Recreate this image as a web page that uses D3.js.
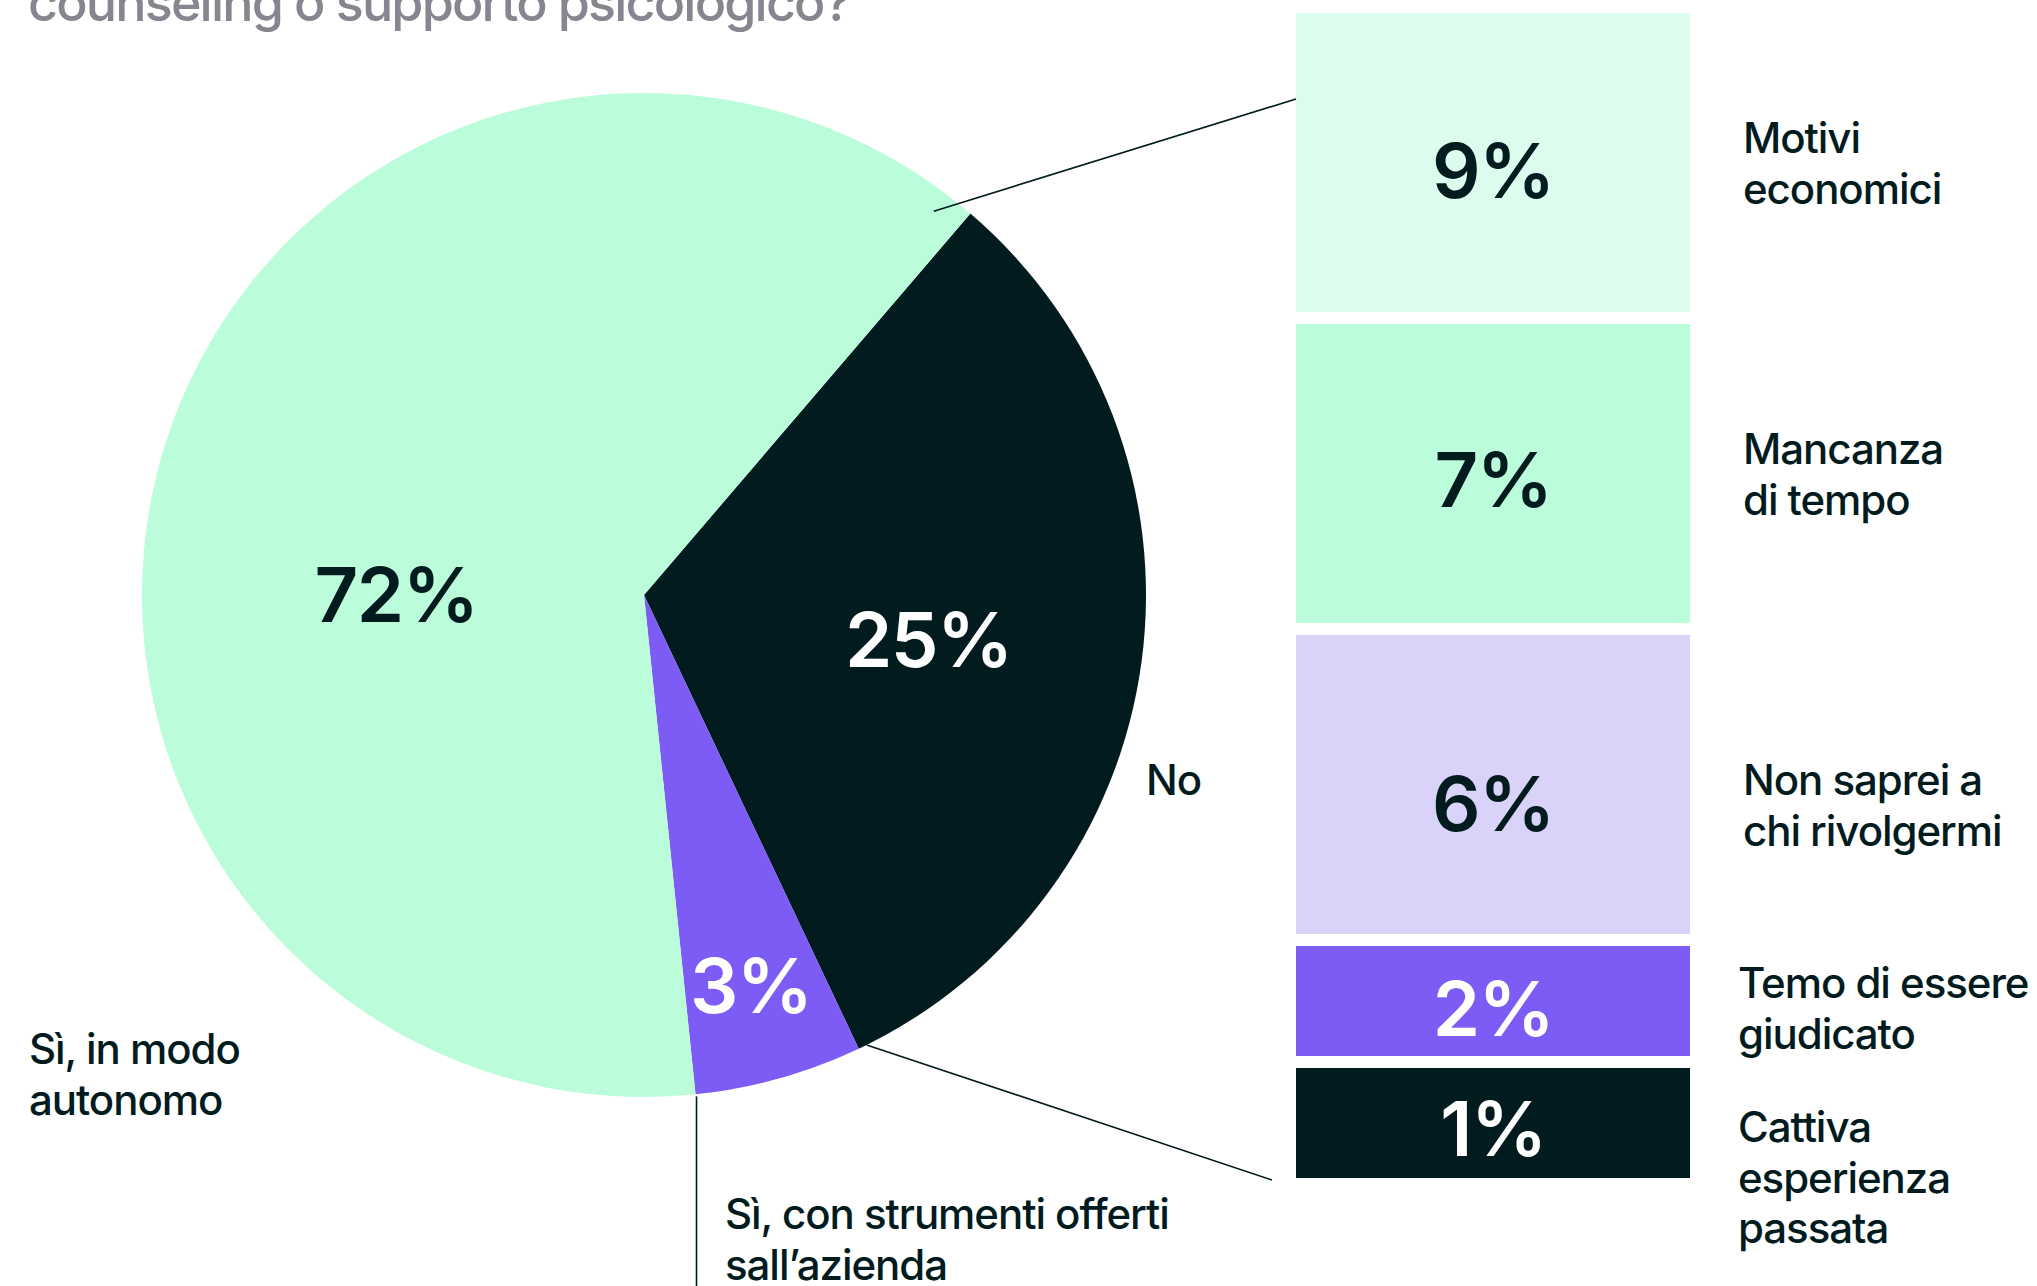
<!DOCTYPE html>
<html>
<head>
<meta charset="utf-8">
<script src="https://cdn.jsdelivr.net/npm/d3@7"></script>
<style>
  html, body { margin: 0; padding: 0; background: #fff; }
  svg { display: block; }
  text { font-family: Inter, "Noto Sans", sans-serif; }
</style>
</head>
<body>
<div id="chart"></div>
<script>
// chart data
var title = "counseling o supporto psicologico?";

// pie: answers, printed percentages, and slice sizes as drawn in the picture
var pieCategories = ["No", "Sì, con strumenti offerti\nsall’azienda", "Sì, in modo\nautonomo"];
var pieValues = [25, 3, 72];
var pieDrawnShare = [31.7, 5.4, 62.9];

// breakdown of the "No" answers
var reasonCategories = ["Motivi\neconomici", "Mancanza\ndi tempo", "Non saprei a\nchi rivolgermi",
                        "Temo di essere\ngiudicato", "Cattiva\nesperienza\npassata"];
var reasonValues = [9, 7, 6, 2, 1];

// colours
var dark = "#021b1e", mint = "#bbfddb", paleMint = "#dcfdee", purple = "#7d5cf5", lilac = "#d9d3f9";

var width = 2037, height = 1286;

var svg = d3.select("#chart")
  .append("svg")
    .attr("width", width)
    .attr("height", height);

// title, cut at the top edge as in the original
svg.append("text")
  .attr("x", 28)
  .attr("y", 21)
  .text(title)
  .style("font-size", "52px")
  .style("font-weight", 500)
  .style("letter-spacing", "-0.035em")
  .style("fill", "#878690");

// ---- pie ----
var cx = 644, cy = 595, R = 502;
var rad = Math.PI / 180;
var startA = 40.55 * rad;

var pieData = pieCategories.map(function(c, i) {
  return { name: c, value: pieValues[i], drawn: pieDrawnShare[i] };
});

var pie = d3.pie()
  .sort(null)
  .value(function(d) { return d.drawn; })
  .startAngle(startA)
  .endAngle(startA + 2 * Math.PI);

var arc = d3.arc().innerRadius(0).outerRadius(R);
var sliceColor = d3.scaleOrdinal().domain(pieCategories).range([dark, purple, mint]);
var sliceText = d3.scaleOrdinal().domain(pieCategories).range(["#fff", "#fff", dark]);

var g = svg.append("g").attr("transform", "translate(" + cx + "," + cy + ")");
var arcs = pie(pieData);

g.selectAll(".slice")
  .data(arcs)
  .enter().append("path")
    .attr("class", "slice")
    .attr("d", arc)
    .style("fill", function(d) { return sliceColor(d.data.name); });

// where the big percentages sit (angle in degrees, radius)
var valueLabelAt = [[99, 288], [164.7, 405], [270.2, 248]];
g.selectAll(".pval")
  .data(arcs)
  .enter().append("text")
    .attr("class", "pval")
    .attr("transform", function(d, i) {
      var p = d3.pointRadial(valueLabelAt[i][0] * rad, valueLabelAt[i][1]);
      return "translate(" + p[0] + "," + p[1] + ")";
    })
    .attr("dy", "0.36em")
    .attr("text-anchor", "middle")
    .text(function(d) { return d.data.value + "%"; })
    .style("font-size", "76px")
    .style("font-weight", 600)
    .style("letter-spacing", "-0.02em")
    .style("fill", function(d) { return sliceText(d.data.name); });

// category names around the pie
var labelFont = "42px", labelSpacing = "-0.025em", lineH = 50.5;
var catLabelAt = [[1146, 795], [725, 1229], [29, 1064]];
function multiline(sel, lines, x, y, lh) {
  lines.split("\n").forEach(function(line, k) {
    sel.append("tspan").attr("x", x).attr("y", y + k * lh).text(line);
  });
}
pieCategories.forEach(function(c, i) {
  var t = svg.append("text")
    .style("font-size", labelFont)
    .style("font-weight", 500)
    .style("letter-spacing", labelSpacing)
    .style("fill", dark);
  multiline(t, c, catLabelAt[i][0], catLabelAt[i][1], lineH);
});

// ---- stacked breakdown ----
var barX = 1296, barW = 394, barTop = 13, gap = 12;
var rowHeight = d3.scaleThreshold().domain([5]).range([110, 299]);
var barColor = d3.scaleOrdinal().domain(reasonCategories).range([paleMint, mint, lilac, purple, dark]);
var barText = d3.scaleOrdinal().domain(reasonCategories).range([dark, dark, dark, "#fff", "#fff"]);

var rows = [];
var yAcc = barTop;
reasonValues.forEach(function(v, i) {
  var h = rowHeight(v);
  rows.push({ name: reasonCategories[i], value: v, y: yAcc, h: h });
  yAcc += h + gap;
});

svg.selectAll(".bar")
  .data(rows)
  .enter().append("rect")
    .attr("class", "bar")
    .attr("x", barX)
    .attr("y", function(d) { return d.y; })
    .attr("width", barW)
    .attr("height", function(d) { return d.h; })
    .style("fill", function(d) { return barColor(d.name); });

// small nudges so the labels sit where the original has them
var valueNudge = [0, -2, 11, 0, -2];
svg.selectAll(".bval")
  .data(rows)
  .enter().append("text")
    .attr("class", "bval")
    .attr("x", barX + barW / 2)
    .attr("y", function(d, i) { return d.y + d.h / 2 + 35 + valueNudge[i]; })
    .attr("text-anchor", "middle")
    .text(function(d) { return d.value + "%"; })
    .style("font-size", "76px")
    .style("font-weight", 600)
    .style("letter-spacing", "-0.02em")
    .style("fill", function(d) { return barText(d.name); });

var reasonLabelY = [153, 464, 795, 998, 1142];
rows.forEach(function(d, i) {
  var x = d.h > 200 ? 1743 : 1738;
  var t = svg.append("text")
    .style("font-size", labelFont)
    .style("font-weight", 500)
    .style("letter-spacing", labelSpacing)
    .style("fill", dark);
  multiline(t, d.name, x, reasonLabelY[i], lineH);
});

// ---- leader lines ----
var noArc = arcs[0], companyArc = arcs[1];
function abs(p) { return [cx + p[0], cy + p[1]]; }

var top0 = abs(d3.pointRadial(noArc.startAngle - 3.5 * rad, R * 0.958));
var bot0 = abs(d3.pointRadial(noArc.endAngle - 1 * rad, R));
var v0 = abs(d3.pointRadial(companyArc.endAngle, R));
var lastRow = rows[rows.length - 1];

var leaders = [
  [top0, [barX, barTop + 86]],
  [bot0, [barX - 24, lastRow.y + lastRow.h + 2]],
  [[v0[0] + 1, v0[1] + 2], [v0[0] + 1, height]]
];

svg.selectAll(".leader")
  .data(leaders)
  .enter().append("path")
    .attr("class", "leader")
    .attr("d", d3.line())
    .attr("fill", "none")
    .attr("stroke", dark)
    .attr("stroke-width", 1.6);
</script>
</body>
</html>
